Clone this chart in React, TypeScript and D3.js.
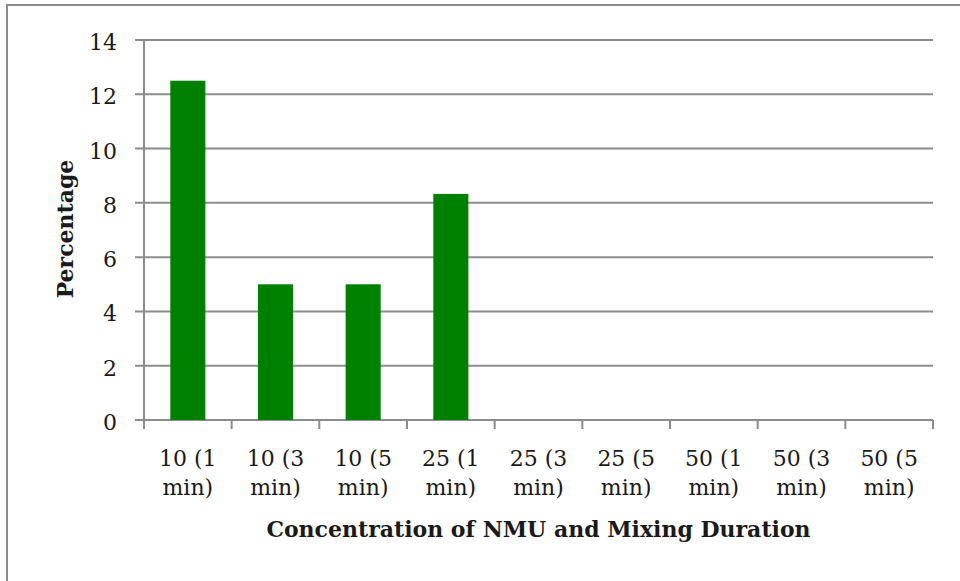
import React from "react";
import * as d3 from "d3";

const categories: string[][] = [
  ["10 (1", "min)"],
  ["10 (3", "min)"],
  ["10 (5", "min)"],
  ["25 (1", "min)"],
  ["25 (3", "min)"],
  ["25 (5", "min)"],
  ["50 (1", "min)"],
  ["50 (3", "min)"],
  ["50 (5", "min)"],
];
const values: number[] = [12.5, 5, 5, 8.33, 0, 0, 0, 0, 0];
const yTicks: number[] = [0, 2, 4, 6, 8, 10, 12, 14];
const xTitle = "Concentration of NMU and Mixing Duration";
const yTitle = "Percentage";

const W = 960;
const H = 581;
const left = 144;
const right = 933;
const top = 40;
const bottom = 420;
const font = "'DejaVu Serif', serif";
const fs = 22;
const grid = "#8c8c8c";
const textColor = "#1a1a1a";

export default function App() {
  const keys = categories.map((_, i) => String(i));
  const x = d3.scaleBand<string>().domain(keys).range([left, right]).paddingInner(0.6).paddingOuter(0.3);
  const xb = d3.scaleBand<string>().domain(keys).range([left, right]);
  const y = d3.scaleLinear().domain([0, 14]).range([bottom, top]);

  return (
    <svg width={W} height={H} style={{ position: "absolute", left: 0, top: 0 }}>
      <rect x={0} y={0} width={W} height={H} fill="#fff" />
      <rect x={7} y={5} width={W + 20} height={H + 20} fill="none" stroke="#8a8a8a" strokeWidth={2} />
      {yTicks.map((t) => (
        <g key={t}>
          <line x1={left - 9} x2={right} y1={y(t)} y2={y(t)} stroke={grid} strokeWidth={2} />
          <text x={117} y={y(t) + 10} textAnchor="end" fontFamily={font} fontSize={fs} fill={textColor}>
            {t}
          </text>
        </g>
      ))}
      <line x1={left} x2={left} y1={top} y2={bottom} stroke={grid} strokeWidth={2} />
      {keys.map((k, i) => (
        <rect key={k} x={x(k)!} width={x.bandwidth()} y={y(values[i])} height={y(0) - y(values[i])} fill="#008000" />
      ))}
      {keys.map((k) => (
        <line key={"t" + k} x1={xb(k)!} x2={xb(k)!} y1={bottom} y2={bottom + 9} stroke={grid} strokeWidth={2} />
      ))}
      <line x1={right} x2={right} y1={bottom} y2={bottom + 9} stroke={grid} strokeWidth={2} />
      {categories.map((c, i) => {
        const cx = xb(keys[i])! + xb.bandwidth() / 2;
        return (
          <text key={"l" + i} textAnchor="middle" fontFamily={font} fontSize={fs} fill={textColor}>
            <tspan x={cx} y={466}>{c[0]}</tspan>
            <tspan x={cx} y={495}>{c[1]}</tspan>
          </text>
        );
      })}
      <text x={538.5} y={537} textAnchor="middle" fontFamily={font} fontWeight="bold" fontSize={fs} fill={textColor}>
        {xTitle}
      </text>
      <text
        transform={`translate(73,229) rotate(-90)`}
        textAnchor="middle"
        fontFamily={font}
        fontWeight="bold"
        fontSize={fs}
        fill={textColor}
      >
        {yTitle}
      </text>
    </svg>
  );
}
